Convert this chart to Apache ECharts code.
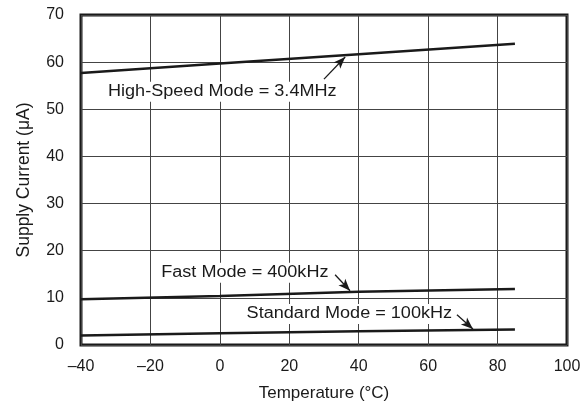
<!DOCTYPE html>
<html>
<head>
<meta charset="utf-8">
<script src="https://cdn.jsdelivr.net/npm/echarts@6/dist/echarts.min.js"></script>
<style>
html,body{margin:0;padding:0;background:#fff;}
#c{width:584px;height:406px;}
</style>
</head>
<body>
<div id="c"></div>
<script>
// Data (temperature in °C, supply current in µA)
const temps = [-40, 0, 40, 85];
const highSpeed = [57.7, 59.7, 61.7, 63.9];
const fastMode = [9.7, 10.4, 11.3, 11.9];
const standardMode = [2.0, 2.5, 2.9, 3.3];

const xTicks = [-40, -20, 0, 20, 40, 60, 80, 100];
const yTicks = [0, 10, 20, 30, 40, 50, 60, 70];

// Annotations (data coordinates)
const annoText = ['High-Speed Mode = 3.4MHz', 'Fast Mode = 400kHz', 'Standard Mode = 100kHz'];
const annoCenter = [[0.7, 53.7], [7.2, 15.3], [37.3, 6.6]];
const arrowFrom = [[30.0, 56.4], [33.2, 14.9], [68.3, 6.4]];
const arrowTo = [[36.1, 61.1], [37.5, 11.5], [72.9, 3.4]];

const FONT = 'Liberation Sans, Arial, Helvetica, sans-serif';
const INK = '#1a1a1a';

function pairs(xs, ys) { return xs.map((x, i) => [x, ys[i]]); }

const chart = echarts.init(document.getElementById('c'), null, {renderer: 'canvas'});

const arrowLines = arrowFrom.map((f, i) => [{coord: f}, {coord: arrowTo[i]}]);

function lineSeries(name, vals, withArrows) {
  const s = {
    name: name,
    type: 'line',
    data: pairs(temps, vals),
    showSymbol: false,
    symbol: 'none',
    smooth: false,
    lineStyle: {color: INK, width: 2.5},
    itemStyle: {color: INK},
    animation: false,
    z: 5
  };
  if (withArrows) {
    s.markLine = {
      silent: true,
      animation: false,
      symbol: ['none', 'arrow'],
      symbolSize: [7, 12],
      label: {show: false},
      lineStyle: {color: INK, width: 1.3, type: 'solid'},
      itemStyle: {color: INK},
      data: arrowLines
    };
  }
  return s;
}

const option = {
  backgroundColor: '#fff',
  animation: false,
  grid: {
    left: 81, right: 17, top: 15, bottom: 61,
    show: true,
    borderColor: INK,
    borderWidth: 3,
    backgroundColor: 'transparent',
    outerBoundsMode: 'none'
  },
  xAxis: {
    type: 'value',
    min: xTicks[0],
    max: xTicks[xTicks.length - 1],
    interval: 20,
    name: 'Temperature (°C)',
    nameLocation: 'middle',
    nameGap: 40,
    nameTextStyle: {fontFamily: FONT, fontSize: 17, color: INK},
    axisLine: {show: false},
    axisTick: {show: false},
    axisLabel: {
      fontFamily: FONT, fontSize: 16, color: INK, margin: 14,
      formatter: v => (v < 0 ? '\u2013' + Math.abs(v) : String(v))
    },
    splitLine: {show: true, lineStyle: {color: '#444', width: 1}}
  },
  yAxis: {
    type: 'value',
    min: yTicks[0],
    max: yTicks[yTicks.length - 1],
    interval: 10,
    name: 'Supply Current (\u03bcA)',
    nameLocation: 'middle',
    nameGap: 48,
    nameTextStyle: {fontFamily: FONT, fontSize: 17.5, color: INK},
    axisLine: {show: false},
    axisTick: {show: false},
    axisLabel: {fontFamily: FONT, fontSize: 16, color: INK, margin: 17},
    splitLine: {show: true, lineStyle: {color: '#444', width: 1}}
  },
  series: [
    lineSeries('High-Speed Mode = 3.4MHz', highSpeed, true),
    lineSeries('Fast Mode = 400kHz', fastMode, false),
    lineSeries('Standard Mode = 100kHz', standardMode, false)
  ]
};

chart.setOption(option);

const graphics = annoText.map((t, i) => {
  const p = chart.convertToPixel({gridIndex: 0}, annoCenter[i]);
  return {
    type: 'text',
    x: p[0], y: p[1],
    scaleX: 1.13,
    z: 3,
    silent: true,
    style: {
      text: t,
      x: 0, y: 0,
      align: 'center',
      verticalAlign: 'middle',
      font: '16px ' + FONT,
      fill: INK,
      backgroundColor: '#fff',
      padding: [2, 2]
    }
  };
});
chart.setOption({graphic: graphics});
</script>
</body>
</html>
